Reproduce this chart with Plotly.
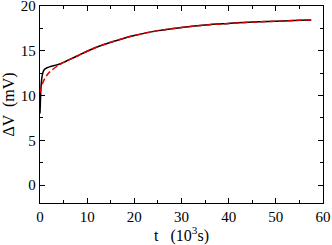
import plotly.graph_objects as go

t_black = [0, 0.1, 0.2, 0.35, 0.5, 0.7, 1.0, 1.5, 2, 3, 4, 5, 6, 8, 10, 12.5, 15, 17.5, 20, 25, 30, 35, 40, 45, 50, 55, 57.5]
v_black = [8.0, 9.5, 10.8, 11.8, 12.3, 12.7, 12.95, 13.1, 13.2, 13.35, 13.5, 13.7, 13.95, 14.45, 14.95, 15.5, 15.95, 16.35, 16.7, 17.25, 17.6, 17.88, 18.05, 18.2, 18.3, 18.4, 18.45]
t_red = [0, 0.25, 0.5, 1, 1.5, 2, 3, 4, 5, 6, 8, 10, 12.5, 15, 17.5, 20, 25, 30, 35, 40, 45, 50, 55, 57.5]
v_red = [10.3, 10.9, 11.3, 11.9, 12.3, 12.6, 13.05, 13.4, 13.7, 13.95, 14.45, 14.95, 15.5, 15.95, 16.35, 16.7, 17.25, 17.6, 17.88, 18.05, 18.2, 18.3, 18.4, 18.45]

fig = go.Figure()
fig.add_trace(go.Scatter(x=t_black, y=v_black, mode="lines", line=dict(color="black", width=1.5, shape="spline"), showlegend=False))
fig.add_trace(go.Scatter(x=t_red, y=v_red, mode="lines", line=dict(color="#e00000", width=1.5, dash="6px,3px", shape="spline"), showlegend=False))

tickfont = dict(family="Liberation Serif, Times New Roman, serif", size=15, color="black")
titlefont = dict(family="Liberation Serif, Times New Roman, serif", size=16, color="black")
axcommon = dict(showline=True, linecolor="black", linewidth=1.3, mirror="ticks", ticks="inside", ticklen=5,
                tickwidth=1.2, tickcolor="black", showgrid=False, zeroline=False, tickfont=tickfont, automargin=False,
                ticklabeloverflow="allow")
fig.update_xaxes(range=[0, 60], dtick=10, minor=dict(ticks="inside", dtick=5, ticklen=3, tickcolor="black", tickwidth=1),
                 title=dict(text="t   (10<sup>3</sup>s)", font=titlefont, standoff=2), **axcommon)
fig.update_yaxes(range=[-2, 20], tick0=0, dtick=5, minor=dict(ticks="inside", dtick=2.5, ticklen=3, tickcolor="black", tickwidth=1),
                 title=dict(text="ΔV  (mV)", font=titlefont, standoff=5), **axcommon)
fig.update_layout(width=332, height=245, margin=dict(l=40, r=9, t=6, b=42, autoexpand=False),
                  plot_bgcolor="white", paper_bgcolor="white", font=tickfont)
fig.write_html("out.html", config={"displayModeBar": False},
               post_script="document.body.style.margin='0';")
